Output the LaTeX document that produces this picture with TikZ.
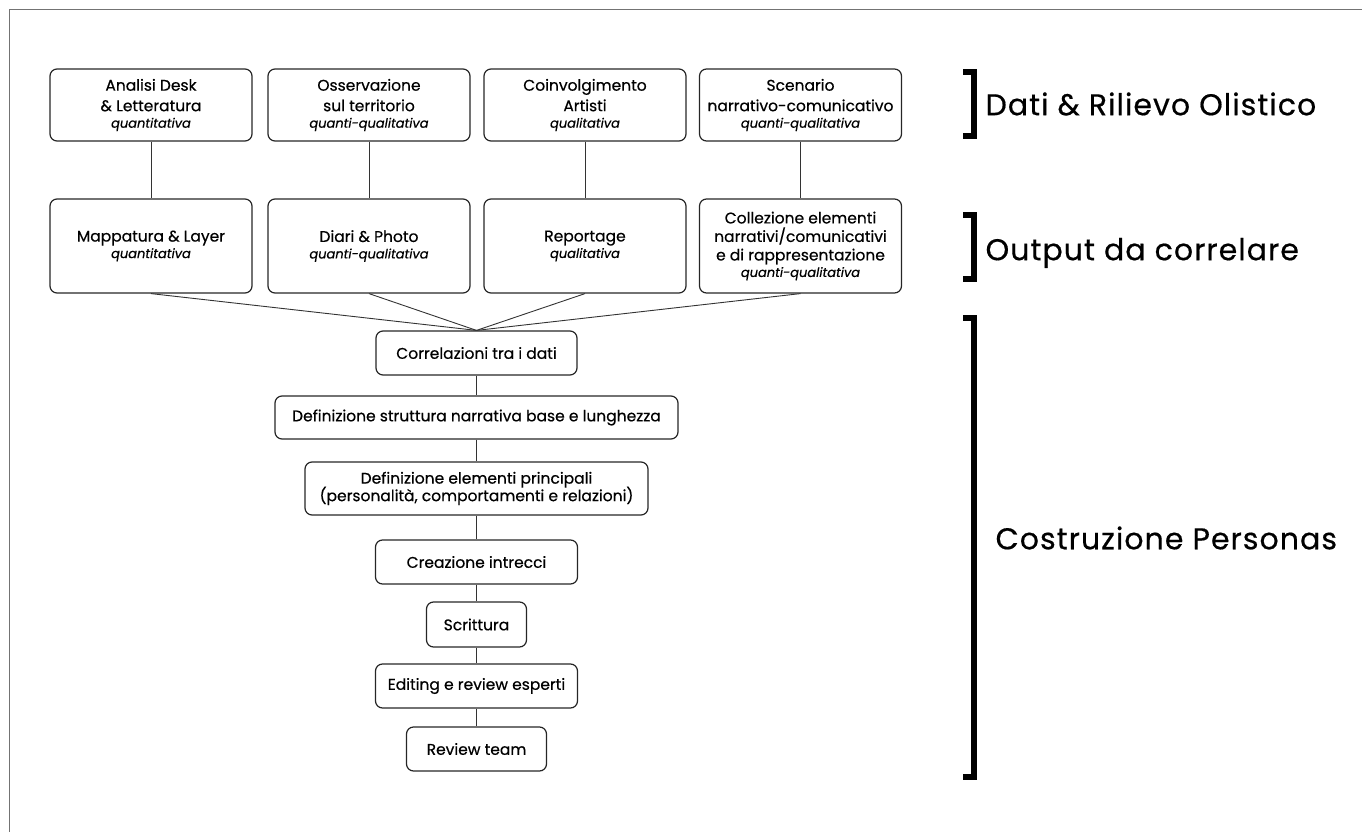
\documentclass[tikz,border=0pt]{standalone}
\usepackage{fontspec}
\setmainfont{Poppins}[FakeBold=0.5]
\usepackage{tikz}

\begin{document}
\begin{tikzpicture}[x=1pt,y=-1pt]
\tikzstyle{every node}=[draw=black!85,line width=1.2pt,rounded corners=7pt,align=center,
  inner sep=2pt,font=\fontsize{15.5}{20.5}\selectfont,text=black];
\tikzstyle{link}=[line width=0.9pt,black!80];
\tikzstyle{tag}=[draw=none,anchor=west,font=\fontsize{30}{32}\selectfont\addfontfeature{LetterSpace=3.5}];
\tikzstyle{brk}=[line width=6pt,black];
\newcommand{\kind}[1]{\\[-4pt]{\fontsize{13}{14}\selectfont\itshape #1}}
\useasboundingbox (0,0) rectangle (1362,832);
\draw[black!55,line width=1pt] (9.5,832) -- (9.5,10) -- (1362,10);
% dati
\path (151,105) node[minimum width=202pt,minimum height=72pt] (a1) {Analisi Desk\\\& Letteratura\kind{quantitativa}};
\path (369,105) node[minimum width=202pt,minimum height=72pt] (a2) {Osservazione\\sul territorio\kind{quanti-qualitativa}};
\path (585,105) node[minimum width=202pt,minimum height=72pt] (a3) {Coinvolgimento\\Artisti\kind{qualitativa}};
\path (800.5,105) node[minimum width=202pt,minimum height=72pt] (a4) {Scenario\\narrativo-comunicativo\kind{quanti-qualitativa}};
% output
\path (151,246) node[minimum width=202pt,minimum height=94pt] (b1) {Mappatura \& Layer\kind{quantitativa}};
\path (369,246) node[minimum width=202pt,minimum height=94pt] (b2) {Diari \& Photo\kind{quanti-qualitativa}};
\path (585,246) node[minimum width=202pt,minimum height=94pt] (b3) {Reportage\kind{qualitativa}};
\path (800.5,246) node[minimum width=202pt,minimum height=94pt] (b4) {Collezione elementi\\[-2pt]narrativi/comunicativi\\[-2pt]e di rappresentazione\kind{quanti-qualitativa}};
% personas
\path (476.5,353) node[minimum width=201pt,minimum height=44pt] (c1) {Correlazioni tra i dati};
\path (476.5,417.5) node[minimum width=403pt,minimum height=43pt] (c2) {Definizione struttura narrativa base e lunghezza};
\path (476.5,488.5) node[minimum width=343pt,minimum height=53pt] (c3) {Definizione elementi principali\\[-3pt](personalità, comportamenti e relazioni)};
\path (476.5,562) node[minimum width=202pt,minimum height=44pt] (c4) {Creazione intrecci};
\path (476.5,624.5) node[minimum width=100pt,minimum height=45pt] (c5) {Scrittura};
\path (476.5,686) node[minimum width=202pt,minimum height=44pt] (c6) {Editing e review esperti};
\path (476.5,749) node[minimum width=140pt,minimum height=44pt] (c7) {Review team};
\foreach \i in {1,...,4}
{
\draw[link] (a\i) -- (b\i);
\draw[link] (b\i.south) -- (c1.north);
}
\foreach \i [count=\j from 2] in {1,...,6}
\draw[link] (c\i) -- (c\j);
% brackets
\draw[brk] (963,72) -- (974,72) -- (974,136) -- (963,136);
\draw[brk] (963,215) -- (974,215) -- (974,279) -- (963,279);
\draw[brk] (963,318) -- (974,318) -- (974,777) -- (963,777);
\path (983,104) node[tag] (t1) {Dati \& Rilievo Olistico};
\path (983,253) node[tag] (t2) {Output da correlare};
\path (993,538) node[tag] (t3) {Costruzione Personas};
\end{tikzpicture}
\end{document}
